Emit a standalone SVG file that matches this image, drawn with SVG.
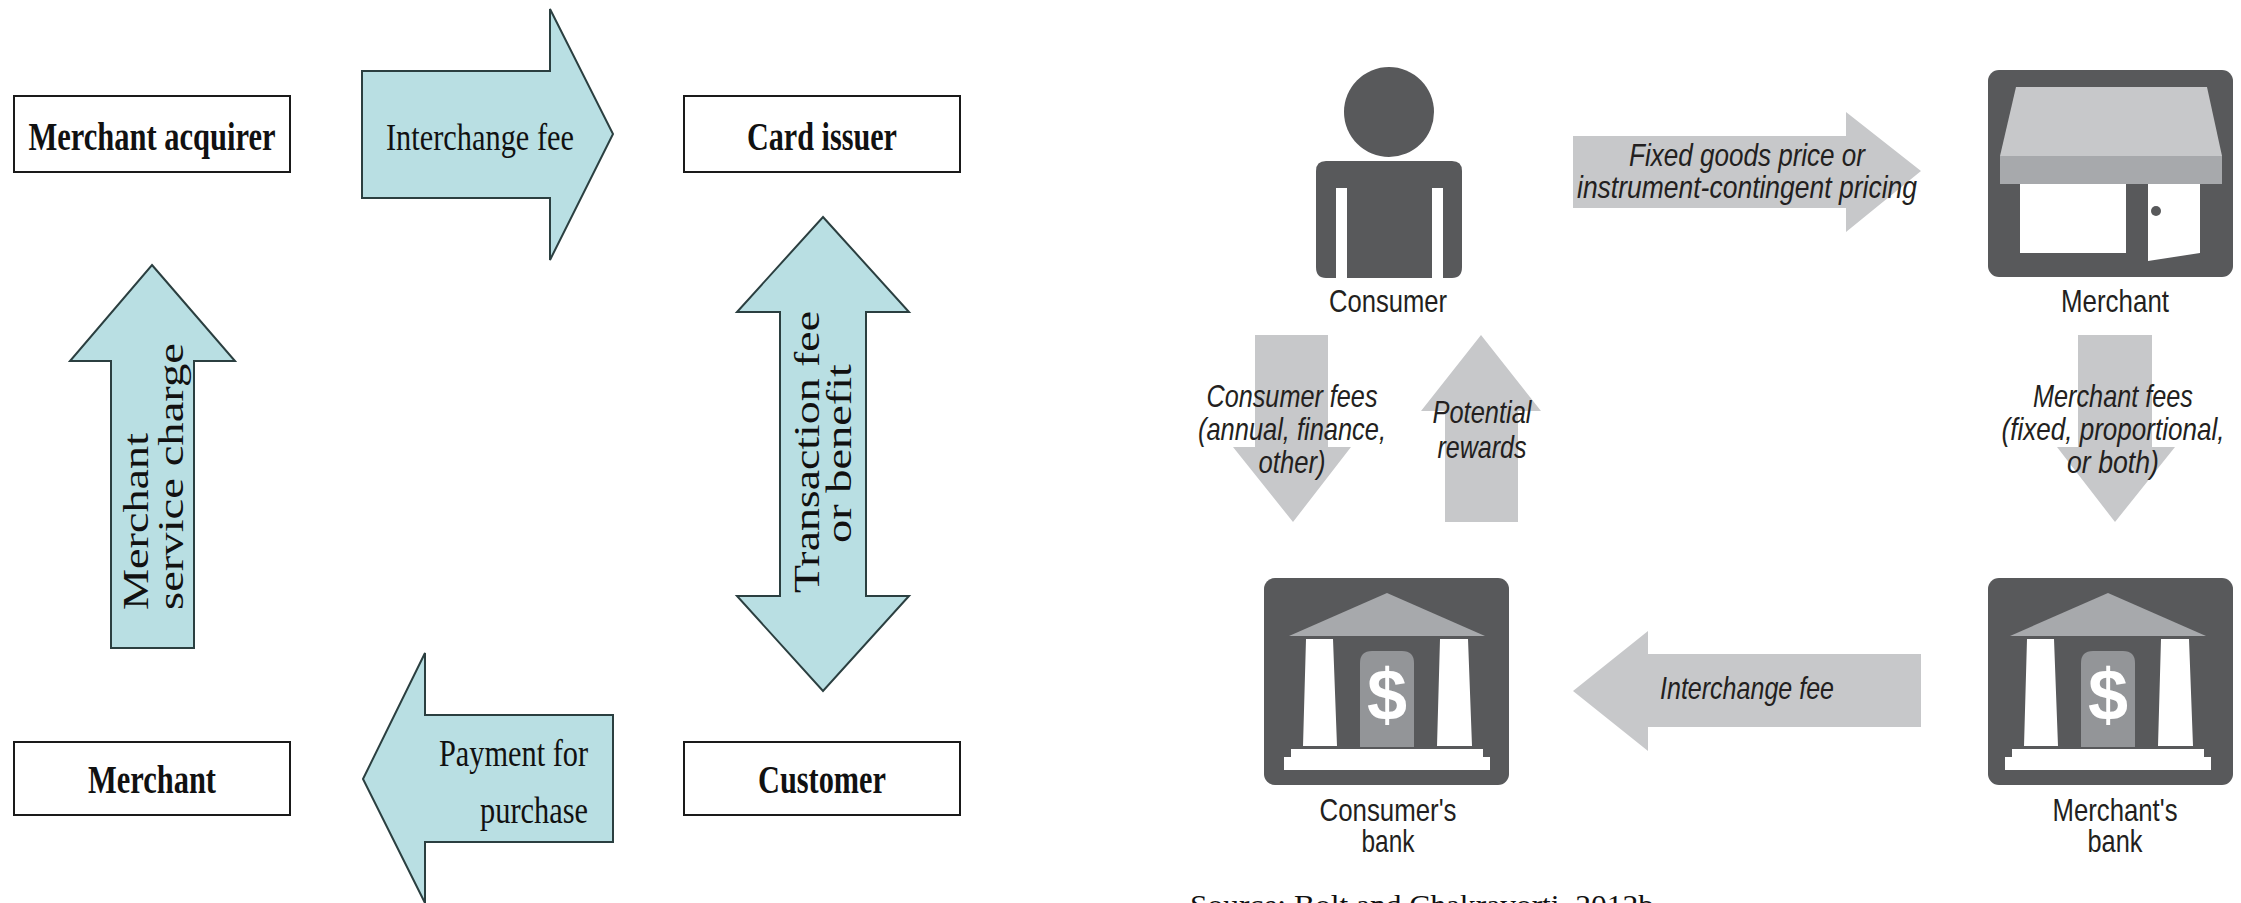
<svg xmlns="http://www.w3.org/2000/svg" width="2241" height="903" viewBox="0 0 2241 903">
<style>
.box{fill:#fff;stroke:#1a1a1a;stroke-width:2}
.ta{fill:#b9dfe3;stroke:#2b3f40;stroke-width:2;stroke-linejoin:miter}
.ga{fill:#c7c8ca}
.dk{fill:#58595b}
.wh{fill:#fff}
text{fill:#111}
.b{font:bold 41px "Liberation Serif",serif;text-anchor:middle}
.r{font:38px "Liberation Serif",serif}
.rr{font:35px "Liberation Serif",serif}
.i{font:italic 32px "Liberation Sans",sans-serif;text-anchor:middle;fill:#231f20}
.n{font:32px "Liberation Sans",sans-serif;text-anchor:middle;fill:#231f20}
</style>
<defs>
<g id="bank">
<path d="M1387 593L1485 636H1289Z" fill="#a7a9ac"/>
<path d="M1306 639H1333L1337 746H1303ZM1440 639H1468L1472 746H1437Z" class="wh"/>
<path d="M1360 747V663Q1360 651 1372 651H1402Q1414 651 1414 663V747Z" fill="#939598"/>
<text x="1387" y="720" text-anchor="middle" style="font:bold 72px 'Liberation Sans',sans-serif;fill:#fff">$</text>
<path d="M1291 749H1483V757H1490V770H1284V757H1291Z" class="wh"/>
</g>
</defs>
<g id="connectors">
<path class="ta" d="M362 71H550V9L613 134L550 260V198H362Z"/>
<path class="ta" d="M152 265L235 361H194V648H111V361H70Z"/>
<path class="ta" d="M823 217L909 312H866V596H909L823 691L737 596H780V312H737Z"/>
<path class="ta" d="M363 779L425 653V715H613V842H425V903Z"/>
<path class="ga" d="M1573 136H1846V112L1921 171L1846 232V208H1573Z"/>
<path class="ga" d="M1255 335H1328V447H1351L1293 522L1233 447H1255Z"/>
<path class="ga" d="M1481 335L1541 411H1518V522H1445V411H1421Z"/>
<path class="ga" d="M2078 335H2152V447H2175L2115 522L2057 447H2078Z"/>
<path class="ga" d="M1573 691L1648 631V654H1921V727H1648V751Z"/>
</g>
<g id="merchant-acquirer"><rect class="box" x="14" y="96" width="276" height="76"/><text class="b" x="152" y="150" textLength="247" lengthAdjust="spacingAndGlyphs">Merchant acquirer</text></g>
<g id="card-issuer"><rect class="box" x="684" y="96" width="276" height="76"/><text class="b" x="822" y="150" textLength="150" lengthAdjust="spacingAndGlyphs">Card issuer</text></g>
<g id="merchant-left"><rect class="box" x="14" y="742" width="276" height="73"/><text class="b" x="152" y="793" textLength="128" lengthAdjust="spacingAndGlyphs">Merchant</text></g>
<g id="customer"><rect class="box" x="684" y="742" width="276" height="73"/><text class="b" x="822" y="793" textLength="128" lengthAdjust="spacingAndGlyphs">Customer</text></g>
<g id="arrow-labels">
<text class="r" x="386" y="150" textLength="188" lengthAdjust="spacingAndGlyphs">Interchange fee</text>
<text class="r" x="439" y="766" textLength="149" lengthAdjust="spacingAndGlyphs">Payment for</text>
<text class="r" x="480" y="823" textLength="108" lengthAdjust="spacingAndGlyphs">purchase</text>
<text class="rr" transform="translate(148 610) rotate(-90)" textLength="177" lengthAdjust="spacingAndGlyphs">Merchant</text>
<text class="rr" transform="translate(183 610) rotate(-90)" textLength="267" lengthAdjust="spacingAndGlyphs">service charge</text>
<text class="rr" transform="translate(819 593) rotate(-90)" textLength="282" lengthAdjust="spacingAndGlyphs">Transaction fee</text>
<text class="rr" transform="translate(851 543) rotate(-90)" textLength="179" lengthAdjust="spacingAndGlyphs">or benefit</text>
<text class="i" x="1747" y="166" textLength="236" lengthAdjust="spacingAndGlyphs">Fixed goods price or</text>
<text class="i" x="1747" y="198" textLength="340" lengthAdjust="spacingAndGlyphs">instrument-contingent pricing</text>
<text class="i" x="1292" y="407" textLength="171" lengthAdjust="spacingAndGlyphs">Consumer fees</text>
<text class="i" x="1292" y="440" textLength="188" lengthAdjust="spacingAndGlyphs">(annual, finance,</text>
<text class="i" x="1292" y="473" textLength="67" lengthAdjust="spacingAndGlyphs">other)</text>
<text class="i" x="1482" y="423" textLength="99" lengthAdjust="spacingAndGlyphs">Potential</text>
<text class="i" x="1482" y="458" textLength="89" lengthAdjust="spacingAndGlyphs">rewards</text>
<text class="i" x="2113" y="407" textLength="160" lengthAdjust="spacingAndGlyphs">Merchant fees</text>
<text class="i" x="2113" y="440" textLength="223" lengthAdjust="spacingAndGlyphs">(fixed, proportional,</text>
<text class="i" x="2113" y="473" textLength="92" lengthAdjust="spacingAndGlyphs">or both)</text>
<text class="i" x="1747" y="699" textLength="174" lengthAdjust="spacingAndGlyphs">Interchange fee</text>
</g>
<g id="consumer">
<ellipse class="dk" cx="1389" cy="112" rx="45" ry="45"/>
<path class="dk" d="M1326 161H1452Q1462 161 1462 171V267Q1462 278 1452 278H1326Q1316 278 1316 267V171Q1316 161 1326 161Z"/>
<rect class="wh" x="1336" y="188" width="11" height="90"/><rect class="wh" x="1432" y="188" width="11" height="90"/>
<text class="n" x="1388" y="312" textLength="118" lengthAdjust="spacingAndGlyphs">Consumer</text>
</g>
<g id="merchant-right">
<rect class="dk" x="1988" y="70" width="245" height="207" rx="11"/>
<path d="M2016 87H2207L2222 156H2000Z" fill="#c7c8ca"/>
<rect x="2000" y="156" width="222" height="28" fill="#a7a9ac"/>
<rect class="wh" x="2020" y="184" width="106" height="69"/>
<path class="wh" d="M2148 184H2200V253L2148 261Z"/>
<circle class="dk" cx="2156" cy="211" r="5"/>
<text class="n" x="2115" y="312" textLength="108" lengthAdjust="spacingAndGlyphs">Merchant</text>
</g>
<g id="consumers-bank">
<rect class="dk" x="1264" y="578" width="245" height="207" rx="11"/>
<use href="#bank"/>
<text class="n" x="1388" y="821" textLength="137" lengthAdjust="spacingAndGlyphs">Consumer's</text>
<text class="n" x="1388" y="852" textLength="53" lengthAdjust="spacingAndGlyphs">bank</text>
</g>
<g id="merchants-bank">
<rect class="dk" x="1988" y="578" width="245" height="207" rx="11"/>
<use href="#bank" x="721"/>
<text class="n" x="2115" y="821" textLength="125" lengthAdjust="spacingAndGlyphs">Merchant's</text>
<text class="n" x="2115" y="852" textLength="55" lengthAdjust="spacingAndGlyphs">bank</text>
</g>
<text id="source" x="1190" y="915" style="font:30px 'Liberation Serif',serif" textLength="464" lengthAdjust="spacingAndGlyphs">Source: Bolt and Chakravorti, 2012b</text>
</svg>
